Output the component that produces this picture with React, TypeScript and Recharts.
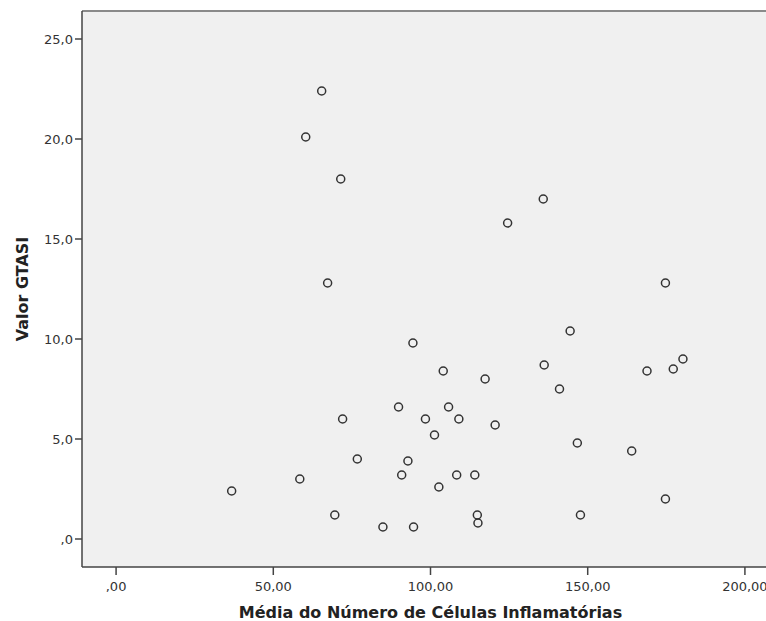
import React from 'react';
import { ScatterChart, Scatter, XAxis, YAxis, CartesianGrid, ReferenceLine, Label } from 'recharts';

const celulas = [
  65.39, 60.32, 71.45, 135.86, 124.53, 67.28,
  144.41, 94.41, 104.05, 136.16, 117.37, 141.03, 89.84, 105.75, 72.05, 98.39,
  109.02, 120.56, 101.27, 146.7, 76.72, 92.82, 90.84, 108.33, 114.09, 58.43,
  36.76, 102.66, 69.56, 114.89, 115.09, 84.87, 94.61,
  174.72, 180.29, 177.21, 168.86, 163.99, 174.72, 147.69,
];
const gtasi = [
  22.4, 20.1, 18.0, 17.0, 15.8, 12.8,
  10.4, 9.8, 8.4, 8.7, 8.0, 7.5, 6.6, 6.6, 6.0, 6.0,
  6.0, 5.7, 5.2, 4.8, 4.0, 3.9, 3.2, 3.2, 3.2, 3.0,
  2.4, 2.6, 1.2, 1.2, 0.8, 0.6, 0.6,
  12.8, 9.0, 8.5, 8.4, 4.4, 2.0, 1.2,
];
const xTicks = [0, 50, 100, 150, 200];
const yTicks = [0, 5, 10, 15, 20, 25];
const xDomain = [-10.84, 210.84];
const yDomain = [-1.4, 26.4];

const data = celulas.map((x, i) => ({ x, y: gtasi[i] }));

const FONT = 'DejaVu Sans, sans-serif';

const fmtX = (v: number) => (v === 0 ? ',00' : v.toFixed(2).replace('.', ','));
const fmtY = (v: number) => (v === 0 ? ',0' : v.toFixed(1).replace('.', ','));

const OpenCircle = (props: any) => {
  const { cx, cy } = props;
  if (cx == null || cy == null) return null;
  return <circle cx={cx} cy={cy} r={4} fill="none" stroke="#333" strokeWidth={1.5} />;
};

const YTitle = (props: any) => {
  const vb = props.viewBox || {};
  const cx = (vb.x || 0) + 22;
  const cy = (vb.y || 0) + (vb.height || 0) / 2;
  return (
    <text
      x={cx}
      y={cy}
      transform={`rotate(-90 ${cx} ${cy})`}
      textAnchor="middle"
      dominantBaseline="central"
      fontFamily={FONT}
      fontWeight="bold"
      fontSize={16}
      fill="#222"
    >
      Valor GTASI
    </text>
  );
};

export default function App() {
  return (
    <div style={{ position: 'absolute', left: 0, top: 0, width: 766, height: 621, overflow: 'hidden', background: '#fff' }}>
      <ScatterChart width={790} height={621} margin={{ top: 11, right: 11, bottom: 0, left: 0 }}>
        <CartesianGrid fill="#f0f0f0" horizontal={false} vertical={false} stroke="none" />
        <XAxis
          type="number"
          dataKey="x"
          domain={xDomain}
          ticks={xTicks}
          interval={0}
          tickFormatter={fmtX}
          height={54}
          tickSize={8}
          tickMargin={7}
          allowDataOverflow
          stroke="#444"
          strokeWidth={1.5}
          tick={{ fill: '#333', fontSize: 13, fontFamily: FONT }}
        >
          <Label
            value="Média do Número de Células Inflamatórias"
            position="insideBottom"
            offset={3}
            style={{ fontFamily: FONT, fontWeight: 'bold', fontSize: 16, fill: '#222' }}
          />
        </XAxis>
        <YAxis
          type="number"
          dataKey="y"
          domain={yDomain}
          ticks={yTicks}
          interval={0}
          tickFormatter={fmtY}
          width={82}
          tickSize={7}
          tickMargin={2}
          allowDataOverflow
          stroke="#444"
          strokeWidth={1.5}
          tick={{ fill: '#333', fontSize: 13, fontFamily: FONT }}
        >
          <Label content={<YTitle />} />
        </YAxis>
        <ReferenceLine y={yDomain[1]} stroke="#8a8a8a" strokeWidth={2} />
        <Scatter data={data} shape={<OpenCircle />} isAnimationActive={false} />
      </ScatterChart>
    </div>
  );
}
